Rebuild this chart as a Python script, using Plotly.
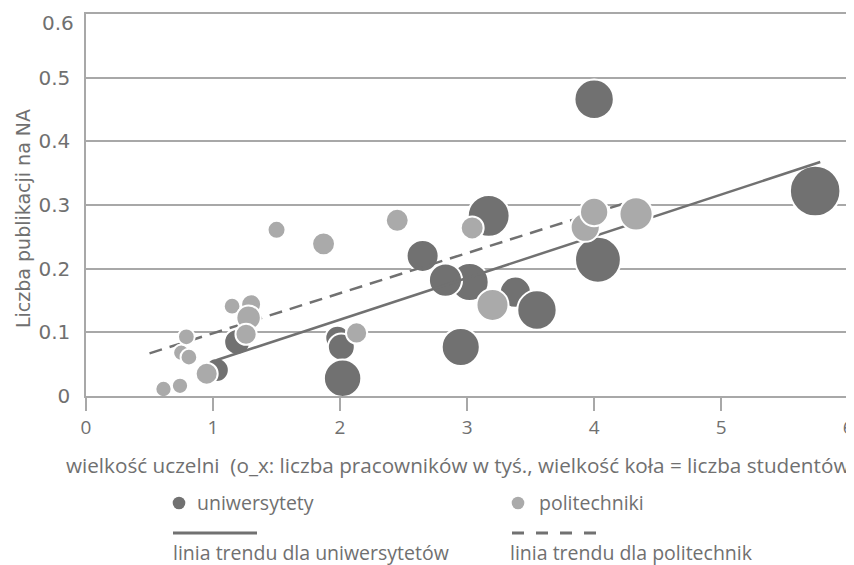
import plotly.graph_objects as go

# ---- data ----
# uniwersytety: x = pracownicy (tys.), y = publikacje na NA, s = studenci (tys.)
uni_x = [1.03, 1.19, 1.98, 2.01, 2.02, 2.65, 3.02, 2.83, 3.17, 3.38, 3.55, 2.95, 4.00, 4.03, 5.74]
uni_y = [0.041, 0.085, 0.091, 0.077, 0.028, 0.220, 0.179, 0.182, 0.283, 0.163, 0.135, 0.077, 0.466, 0.214, 0.322]
uni_s = [11.5, 13.5, 12.0, 14.5, 28.0, 20.5, 29.0, 22.0, 35.0, 19.5, 31.0, 29.0, 31.0, 42.0, 51.0]

# politechniki
pol_x = [0.61, 0.74, 0.75, 0.81, 0.79, 0.95, 1.15, 1.30, 1.28, 1.26, 1.50, 1.87, 2.13, 2.45, 3.04, 3.20, 3.93, 4.00, 4.33]
pol_y = [0.011, 0.016, 0.068, 0.061, 0.093, 0.035, 0.141, 0.144, 0.123, 0.097, 0.261, 0.239, 0.099, 0.276, 0.264, 0.143, 0.265, 0.289, 0.286]
pol_s = [5.3, 5.3, 5.3, 5.6, 5.6, 9.7, 5.6, 8.0, 12.0, 9.0, 6.5, 10.5, 9.0, 10.5, 10.5, 20.5, 17.0, 16.0, 22.0]

# trend lines (end points)
trend_uni_x = [1.03, 5.78]
trend_uni_y = [0.0565, 0.3675]
trend_pol_x = [0.50, 4.31]
trend_pol_y = [0.067, 0.307]

x_ticks = [0, 1, 2, 3, 4, 5, 6]
y_ticks = [0, 0.1, 0.2, 0.3, 0.4, 0.5, 0.6]
y_tick_labels = ["0", "0.1", "0.2", "0.3", "0.4", "0.5", "0.6"]

series_names = ["uniwersytety", "politechniki"]
trend_names = ["linia trendu dla uniwersytetów", "linia trendu dla politechnik"]
x_title = "wielkość uczelni  (o_x: liczba pracowników w tyś., wielkość koła = liczba studentów"
y_title = "Liczba publikacji na NA"

DARK = "#717171"
LIGHT = "#aaaaaa"
TEXT = "#707070"
GRID = "#a8a8a8"
SIZEREF = 0.04

fig = go.Figure()
fig.add_trace(go.Scatter(
    x=uni_x, y=uni_y, mode="markers", name=series_names[0],
    marker=dict(size=uni_s, sizemode="area", sizeref=SIZEREF, color=DARK,
                opacity=1, line=dict(color="white", width=2)),
    showlegend=False))
fig.add_trace(go.Scatter(
    x=trend_uni_x, y=trend_uni_y, mode="lines", name=trend_names[0],
    line=dict(color=DARK, width=2.5), showlegend=False))
fig.add_trace(go.Scatter(
    x=trend_pol_x, y=trend_pol_y, mode="lines", name=trend_names[1],
    line=dict(color=DARK, width=2.5, dash="13px,8px"), showlegend=False))
fig.add_trace(go.Scatter(
    x=pol_x, y=pol_y, mode="markers", name=series_names[1],
    marker=dict(size=pol_s, sizemode="area", sizeref=SIZEREF, color=LIGHT,
                opacity=1, line=dict(color="white", width=2)),
    showlegend=False))

# page body has an 8px margin, so the figure is 8px smaller each way
OFF = 8
W, H = 854 - OFF, 565 - OFF
L, R, T, B = 86 - OFF, 2, 14 - OFF, 169
pw, ph = W - L - R, H - T - B


def px(xp):  # reference-image pixel -> paper
    return (xp - OFF - L) / pw


def py(yp):
    return (H - B - (yp - OFF)) / ph


FONT = "Open Sans"
# the top tick label sits a little below its gridline in the reference
axis_ticktext = y_tick_labels[:-1] + [""]

annotations = [
    dict(text=y_tick_labels[-1], x=px(76), y=py(23), xref="paper", yref="paper",
         xanchor="right", yanchor="middle", showarrow=False,
         font=dict(family="DejaVu Sans", size=20, color=TEXT)),
    dict(text=x_title, x=px(64), y=py(465), xref="paper", yref="paper",
         xanchor="left", yanchor="middle", showarrow=False,
         font=dict(family=FONT, size=20.7, color=TEXT)),
    dict(text=y_title, x=px(23), y=py(219), xref="paper", yref="paper",
         xanchor="center", yanchor="middle", textangle=-90, showarrow=False,
         font=dict(family="DejaVu Sans", size=19, color=TEXT)),
    dict(text=series_names[0], x=px(195), y=py(503), xref="paper", yref="paper",
         xanchor="left", yanchor="middle", showarrow=False,
         font=dict(family=FONT, size=19.5, color=TEXT)),
    dict(text=series_names[1], x=px(537), y=py(503), xref="paper", yref="paper",
         xanchor="left", yanchor="middle", showarrow=False,
         font=dict(family=FONT, size=19.5, color=TEXT)),
    dict(text=trend_names[0], x=px(171), y=py(552), xref="paper", yref="paper",
         xanchor="left", yanchor="middle", showarrow=False,
         font=dict(family=FONT, size=19.5, color=TEXT)),
    dict(text=trend_names[1], x=px(508), y=py(552), xref="paper", yref="paper",
         xanchor="left", yanchor="middle", showarrow=False,
         font=dict(family=FONT, size=19.5, color=TEXT)),
]

shapes = [
    dict(type="circle", xref="paper", yref="paper", xsizemode="pixel", ysizemode="pixel",
         xanchor=px(179), yanchor=py(503), x0=-6.3, x1=6.3, y0=-6.3, y1=6.3,
         fillcolor=DARK, line=dict(width=0)),
    dict(type="circle", xref="paper", yref="paper", xsizemode="pixel", ysizemode="pixel",
         xanchor=px(518), yanchor=py(503), x0=-6.3, x1=6.3, y0=-6.3, y1=6.3,
         fillcolor=LIGHT, line=dict(width=0)),
    dict(type="line", xref="paper", yref="paper", x0=px(173), x1=px(257),
         y0=py(533), y1=py(533), line=dict(color=DARK, width=3)),
    dict(type="line", xref="paper", yref="paper", x0=px(512), x1=px(596),
         y0=py(533), y1=py(533), line=dict(color=DARK, width=3, dash="12px,12px")),
]

fig.update_layout(
    width=W, height=H,
    margin=dict(l=L, r=R, t=T, b=B, pad=0),
    paper_bgcolor="white", plot_bgcolor="white",
    showlegend=False,
    annotations=annotations, shapes=shapes,
    xaxis=dict(range=[0, 6.03], tickvals=x_ticks, ticks="outside", ticklen=13,
               tickwidth=1.5, tickcolor=GRID, showgrid=False, zeroline=False,
               showline=True, linecolor=GRID, linewidth=1.5, mirror=True,
               automargin=False, ticklabeloverflow="allow",
               tickfont=dict(family=FONT, size=19, color=TEXT)),
    yaxis=dict(range=[0, 0.6], tickvals=y_ticks, ticktext=axis_ticktext,
               ticks="", showgrid=True, gridcolor=GRID, gridwidth=1.5,
               zeroline=False, showline=True, linecolor=GRID, linewidth=1.5,
               mirror=True, ticklabelstandoff=10, automargin=False,
               ticklabeloverflow="allow",
               tickfont=dict(family="DejaVu Sans", size=20, color=TEXT)),
)

fig.write_html("out.html")
